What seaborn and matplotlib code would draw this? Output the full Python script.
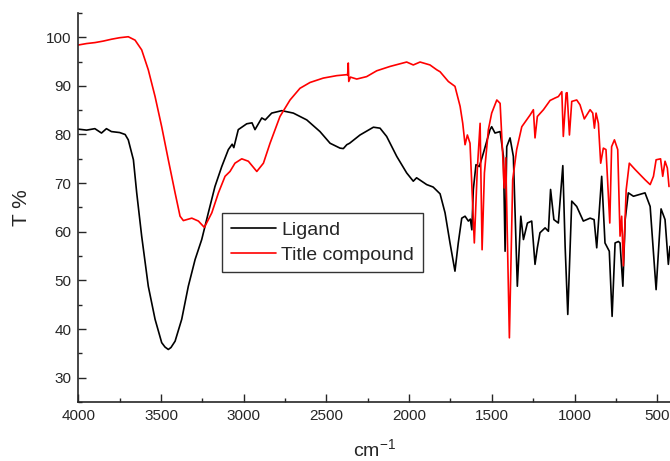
import pandas as pd
import numpy as np
import matplotlib
matplotlib.use("Agg")
import matplotlib.pyplot as plt
import seaborn as sns
from matplotlib.ticker import MultipleLocator

# Ligand spectrum (wavenumber, transmittance)
ligand_x = [4000, 3950, 3900, 3860, 3830, 3800, 3750, 3717, 3698, 3667, 3647, 3617,
            3577, 3536, 3496, 3476, 3456, 3440, 3415, 3375, 3335, 3294, 3254, 3214,
            3174, 3133, 3093, 3070, 3060, 3033, 2982, 2950, 2932, 2891, 2870, 2831,
            2770, 2700, 2619, 2539, 2478, 2418, 2398, 2377, 2360, 2297, 2216, 2176,
            2136, 2075, 2015, 1975, 1955, 1894, 1855, 1813, 1783, 1753, 1723, 1703,
            1682, 1662, 1642, 1630, 1621, 1612, 1596, 1576, 1551, 1511, 1501, 1481,
            1450, 1430, 1420, 1410, 1390, 1370, 1346, 1325, 1309, 1285, 1259, 1239,
            1225, 1209, 1178, 1158, 1145, 1125, 1098, 1071, 1057, 1041, 1017, 987,
            947, 906, 882, 866, 836, 816, 790, 773, 755, 735, 725, 708, 694, 675,
            644, 574, 543, 507, 477, 453, 433, 423]
ligand_y = [81.1, 80.9, 81.2, 80.3, 81.2, 80.6, 80.4, 80.0, 78.9, 74.8, 68.0, 59.1,
            48.8, 42.0, 37.2, 36.3, 35.8, 36.2, 37.5, 42.0, 48.8, 54.3, 58.4, 63.9,
            69.3, 73.4, 76.9, 78.0, 77.3, 81.0, 82.2, 82.4, 81.0, 83.4, 83.0, 84.4,
            84.9, 84.4, 83.0, 80.6, 78.2, 77.2, 77.1, 77.9, 78.2, 79.9, 81.5, 81.3,
            79.6, 75.5, 72.1, 70.4, 71.1, 69.7, 69.2, 67.8, 63.9, 57.7, 51.9, 57.7,
            62.8, 63.2, 62.2, 62.6, 60.4, 68.7, 73.8, 73.4, 76.2, 81.0, 81.6, 80.3,
            80.6, 75.5, 56.0, 77.5, 79.3, 75.5, 48.8, 63.2, 58.4, 61.8, 62.2, 53.3,
            56.7, 59.8, 60.8, 60.1, 68.7, 62.5, 61.8, 73.6, 57.0, 43.0, 66.3, 65.2,
            62.2, 62.8, 62.5, 56.7, 71.4, 57.7, 56.0, 42.6, 57.7, 58.0, 57.7, 48.8,
            62.5, 68.0, 67.3, 68.0, 65.2, 48.1, 64.7, 62.5, 53.3, 57.0]

# Title compound spectrum
compound_x = [4000, 3950, 3899, 3850, 3798, 3750, 3698, 3657, 3617, 3577, 3536, 3496,
              3456, 3415, 3385, 3365, 3314, 3274, 3238, 3193, 3153, 3113, 3083, 3053,
              3012, 2972, 2921, 2881, 2841, 2781, 2720, 2660, 2599, 2519, 2438, 2377,
              2372, 2368, 2365, 2355, 2317, 2257, 2196, 2115, 2015, 1975, 1934, 1874,
              1833, 1813, 1763, 1723, 1692, 1676, 1662, 1648, 1632, 1606, 1588, 1571,
              1559, 1545, 1521, 1501, 1470, 1450, 1434, 1426, 1416, 1394, 1374, 1350,
              1319, 1269, 1249, 1239, 1225, 1188, 1148, 1118, 1098, 1077, 1068, 1051,
              1045, 1031, 1017, 987, 967, 941, 906, 890, 880, 870, 856, 842, 826, 810,
              787, 776, 759, 739, 725, 715, 705, 688, 669, 634, 614, 574, 543, 523,
              507, 480, 467, 453, 439, 429]
compound_y = [98.4, 98.7, 98.9, 99.2, 99.6, 99.9, 100.1, 99.4, 97.4, 93.3, 87.8, 81.6,
              74.8, 68.0, 63.2, 62.3, 62.8, 62.2, 60.9, 63.9, 68.0, 71.4, 72.4, 74.1,
              75.0, 74.5, 72.4, 74.1, 78.2, 83.7, 87.1, 89.5, 90.7, 91.6, 92.1, 92.3,
              92.2, 94.7, 90.9, 91.8, 91.4, 91.9, 93.1, 94.0, 94.9, 94.3, 94.9, 94.3,
              93.3, 92.9, 90.9, 89.9, 85.8, 82.3, 77.9, 79.9, 78.2, 57.7, 72.8, 82.3,
              56.3, 72.1, 81.0, 84.4, 87.1, 86.4, 75.5, 69.0, 75.2, 38.2, 70.7, 76.9,
              81.6, 84.0, 85.1, 79.3, 83.7, 85.1, 87.0, 87.5, 87.8, 88.8, 79.6, 88.5,
              88.6, 79.9, 86.8, 87.1, 86.1, 83.2, 85.1, 84.4, 81.3, 84.4, 82.3, 74.1,
              77.2, 76.9, 61.8, 77.5, 78.9, 76.9, 59.1, 63.2, 53.0, 68.6, 74.1, 72.8,
              72.1, 70.7, 69.7, 71.4, 74.8, 75.0, 71.4, 74.5, 73.1, 69.3]

sns.set_style("ticks")
plt.rcParams['font.family'] = ['Liberation Sans', 'DejaVu Sans']
plt.rcParams['mathtext.default'] = 'regular'

fig = plt.figure(figsize=(6.7, 4.61), dpi=100)
ax = fig.add_axes([0.1169, 0.128, 0.8831, 0.844])

sns.lineplot(x=ligand_x, y=ligand_y, sort=False, color='black', lw=1.2,
             label='Ligand', ax=ax)
sns.lineplot(x=compound_x, y=compound_y, sort=False, color='red', lw=1.2,
             label='Title compound', ax=ax)

ax.set_xlim(4000, 423)
ax.set_ylim(25, 105)
ax.xaxis.set_major_locator(MultipleLocator(500))
ax.xaxis.set_minor_locator(MultipleLocator(250))
ax.yaxis.set_major_locator(MultipleLocator(10))
ax.yaxis.set_minor_locator(MultipleLocator(5))
ax.tick_params(which='major', direction='in', length=6, width=1, labelsize=11, pad=5)
ax.tick_params(which='minor', direction='in', length=3, width=1)
ax.spines['top'].set_visible(False)
ax.spines['right'].set_visible(False)
for s in ['left', 'bottom']:
    ax.spines[s].set_linewidth(1.2)

ax.set_xlabel('cm$^{-1}$', fontsize=14, labelpad=11)
ax.set_ylabel('T %', fontsize=15, labelpad=11)

leg = ax.legend(loc='upper left', bbox_to_anchor=(0.243, 0.486), borderaxespad=0,
                fontsize=14, frameon=True, fancybox=False, handlelength=2.3,
                handletextpad=0.3, borderpad=0.45, labelspacing=0.35)
leg.get_frame().set_edgecolor('black')
leg.get_frame().set_linewidth(1)

fig.savefig('out.png', dpi=100)
